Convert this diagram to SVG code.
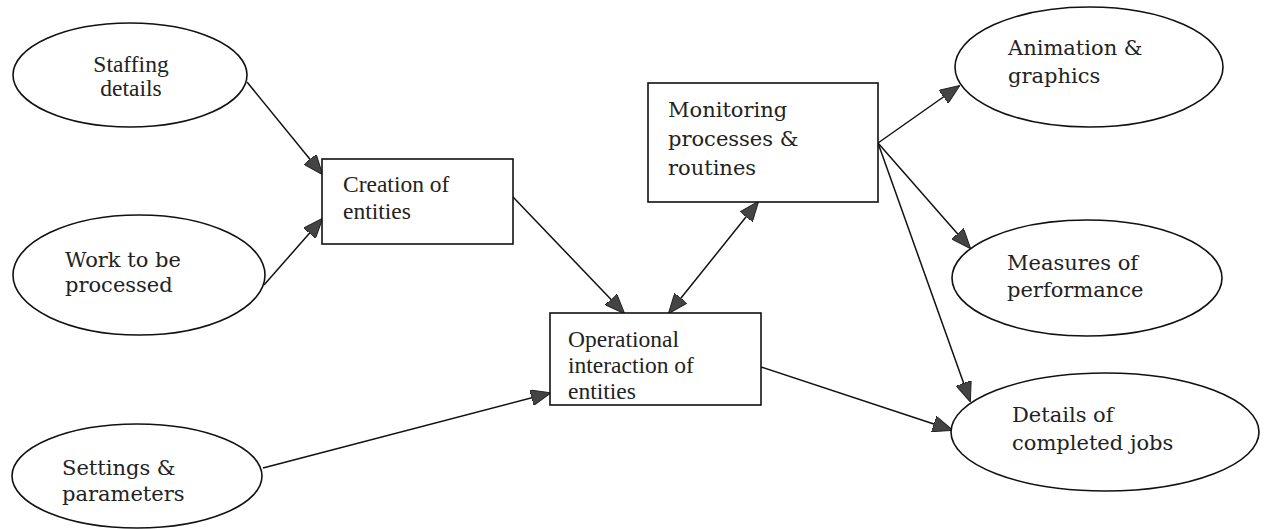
<svg xmlns="http://www.w3.org/2000/svg" width="1264" height="529" viewBox="0 0 1264 529">
<style>
.shape{fill:#fff;stroke:#111;stroke-width:1.6}
.t1{font-family:"Liberation Serif","Times New Roman",serif;font-size:23.5px;fill:#222}
.t2{font-family:"DejaVu Serif","Liberation Serif",serif;font-size:21px;fill:#222}
.c{fill:none;stroke:#111;stroke-width:1.5}
</style>
<defs>
<marker id="ah" viewBox="0 0 20 16" refX="19" refY="8" markerWidth="20" markerHeight="16" markerUnits="userSpaceOnUse" orient="auto-start-reverse">
<path d="M0,0 L20,8 L0,16 Z" fill="#444" stroke="#222" stroke-width="1"/>
</marker>
</defs>
<rect width="1264" height="529" fill="#fff"/>
<g id="connectors">
<line class="c" x1="247" y1="82" x2="322" y2="174" marker-end="url(#ah)"/>
<line class="c" x1="264" y1="285" x2="322" y2="219" marker-end="url(#ah)"/>
<line class="c" x1="513" y1="197" x2="624" y2="313" marker-end="url(#ah)"/>
<line class="c" x1="669" y1="313" x2="758" y2="202" marker-start="url(#ah)" marker-end="url(#ah)"/>
<line class="c" x1="263" y1="468" x2="550" y2="393" marker-end="url(#ah)"/>
<line class="c" x1="761" y1="367" x2="952" y2="430" marker-end="url(#ah)"/>
<line class="c" x1="878" y1="143" x2="959" y2="86" marker-end="url(#ah)"/>
<line class="c" x1="878" y1="143" x2="970" y2="248" marker-end="url(#ah)"/>
<line class="c" x1="878" y1="143" x2="970" y2="401" marker-end="url(#ah)"/>
</g>
<g id="staffing">
<ellipse class="shape" cx="130" cy="75" rx="117" ry="52"/>
<text class="t1" x="131" y="72" text-anchor="middle">Staffing</text>
<text class="t1" x="131" y="96" text-anchor="middle">details</text>
</g>
<g id="work">
<ellipse class="shape" cx="139" cy="275" rx="126" ry="60"/>
<text class="t2" x="65" y="267">Work to be</text>
<text class="t2" x="65" y="292">processed</text>
</g>
<g id="settings">
<ellipse class="shape" cx="137" cy="476" rx="125" ry="52"/>
<text class="t2" x="62" y="475">Settings &amp;</text>
<text class="t2" x="62" y="501">parameters</text>
</g>
<g id="creation">
<rect class="shape" x="322" y="159" width="191" height="85"/>
<text class="t1" x="343" y="192">Creation of</text>
<text class="t1" x="343" y="219">entities</text>
</g>
<g id="operational">
<rect class="shape" x="550" y="313" width="211" height="92"/>
<text class="t1" x="568" y="347">Operational</text>
<text class="t1" x="568" y="373">interaction of</text>
<text class="t1" x="568" y="399">entities</text>
</g>
<g id="monitoring">
<rect class="shape" x="648" y="83" width="230" height="119"/>
<text class="t2" x="668" y="117">Monitoring</text>
<text class="t2" x="668" y="146">processes &amp;</text>
<text class="t2" x="668" y="175">routines</text>
</g>
<g id="animation">
<ellipse class="shape" cx="1089" cy="67" rx="134" ry="60"/>
<text class="t2" x="1008" y="55">Animation &amp;</text>
<text class="t2" x="1008" y="83">graphics</text>
</g>
<g id="measures">
<ellipse class="shape" cx="1087" cy="278" rx="135" ry="58"/>
<text class="t2" x="1007" y="270">Measures of</text>
<text class="t2" x="1007" y="297">performance</text>
</g>
<g id="details">
<ellipse class="shape" cx="1105" cy="432" rx="154" ry="59"/>
<text class="t2" x="1012" y="422">Details of</text>
<text class="t2" x="1012" y="450">completed jobs</text>
</g>
</svg>
